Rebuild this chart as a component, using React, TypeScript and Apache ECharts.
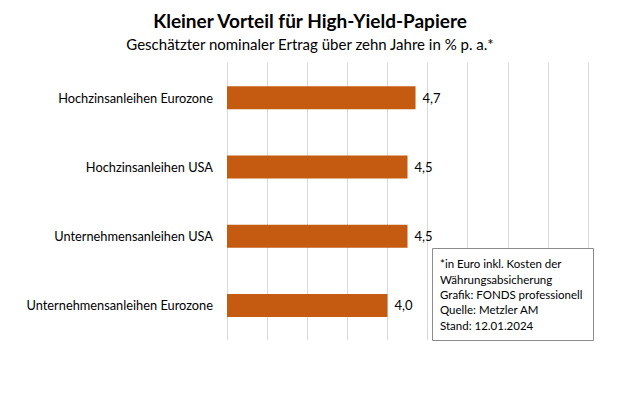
import React, { useEffect, useRef } from "react";
import * as echarts from "echarts";

const categories = [
  "Hochzinsanleihen Eurozone",
  "Hochzinsanleihen USA",
  "Unternehmensanleihen USA",
  "Unternehmensanleihen Eurozone",
];
const values = [4.7, 4.5, 4.5, 4.0];
const noteLines = [
  "*in Euro inkl. Kosten der",
  "Währungsabsicherung",
  "Grafik: FONDS professionell",
  "Quelle: Metzler AM",
  "Stand: 12.01.2024",
];
const titleText = "Kleiner Vorteil für High-Yield-Papiere";
const subtitleText = "Geschätzter nominaler Ertrag über zehn Jahre in % p. a.*";

const FONT = "Lato, 'Open Sans', sans-serif";

export default function App() {
  const ref = useRef<HTMLDivElement>(null);
  useEffect(() => {
    document.body.style.margin = "0";
    if (!ref.current) return;
    const chart = echarts.init(ref.current, null, { renderer: "svg" });
    chart.setOption({
      animation: false,
      backgroundColor: "#ffffff",
      textStyle: { fontFamily: FONT },
      title: [
        {
          text: titleText,
          left: "center",
          top: 6,
          textStyle: { fontFamily: FONT, fontSize: 19, fontWeight: "bold", color: "#000" },
        },
        {
          text: subtitleText,
          left: "center",
          top: 31,
          textStyle: { fontFamily: FONT, fontSize: 15, fontWeight: "normal", color: "#000" },
        },
      ],
      grid: { left: 227, right: 32, top: 63, bottom: 73, containLabel: false },
      xAxis: {
        type: "value",
        min: 0,
        max: 9,
        interval: 1,
        axisLabel: { show: false },
        axisLine: { show: false },
        axisTick: { show: false },
        splitLine: { show: true, lineStyle: { color: "#d9d9d9", width: 1 } },
      },
      yAxis: {
        type: "category",
        data: categories,
        inverse: true,
        axisLine: { show: false },
        axisTick: { show: false },
        axisLabel: { fontFamily: FONT, fontSize: 12.8, color: "#000", margin: 14 },
      },
      series: [
        {
          type: "bar",
          data: values,
          barWidth: 23,
          itemStyle: { color: "#C55A11" },
          label: {
            show: true,
            position: "right",
            distance: 7,
            fontFamily: FONT,
            fontSize: 13,
            color: "#000",
            formatter: (p: any) => p.value.toFixed(1).replace(".", ","),
          },
        },
      ],
      graphic: [
        {
          type: "rect",
          shape: { x: 432.5, y: 248.5, width: 161, height: 92 },
          style: { fill: "#ffffff", stroke: "#8c8c8c", lineWidth: 1 },
          z: 10,
        },
        {
          type: "text",
          x: 440,
          y: 256,
          z: 11,
          style: {
            text: noteLines.join("\n"),
            fontFamily: FONT,
            fontSize: 11.5,
            lineHeight: 15.4,
            fill: "#000",
          },
        },
      ],
    });
    return () => chart.dispose();
  }, []);
  return <div ref={ref} style={{ width: 620, height: 413 }} />;
}
